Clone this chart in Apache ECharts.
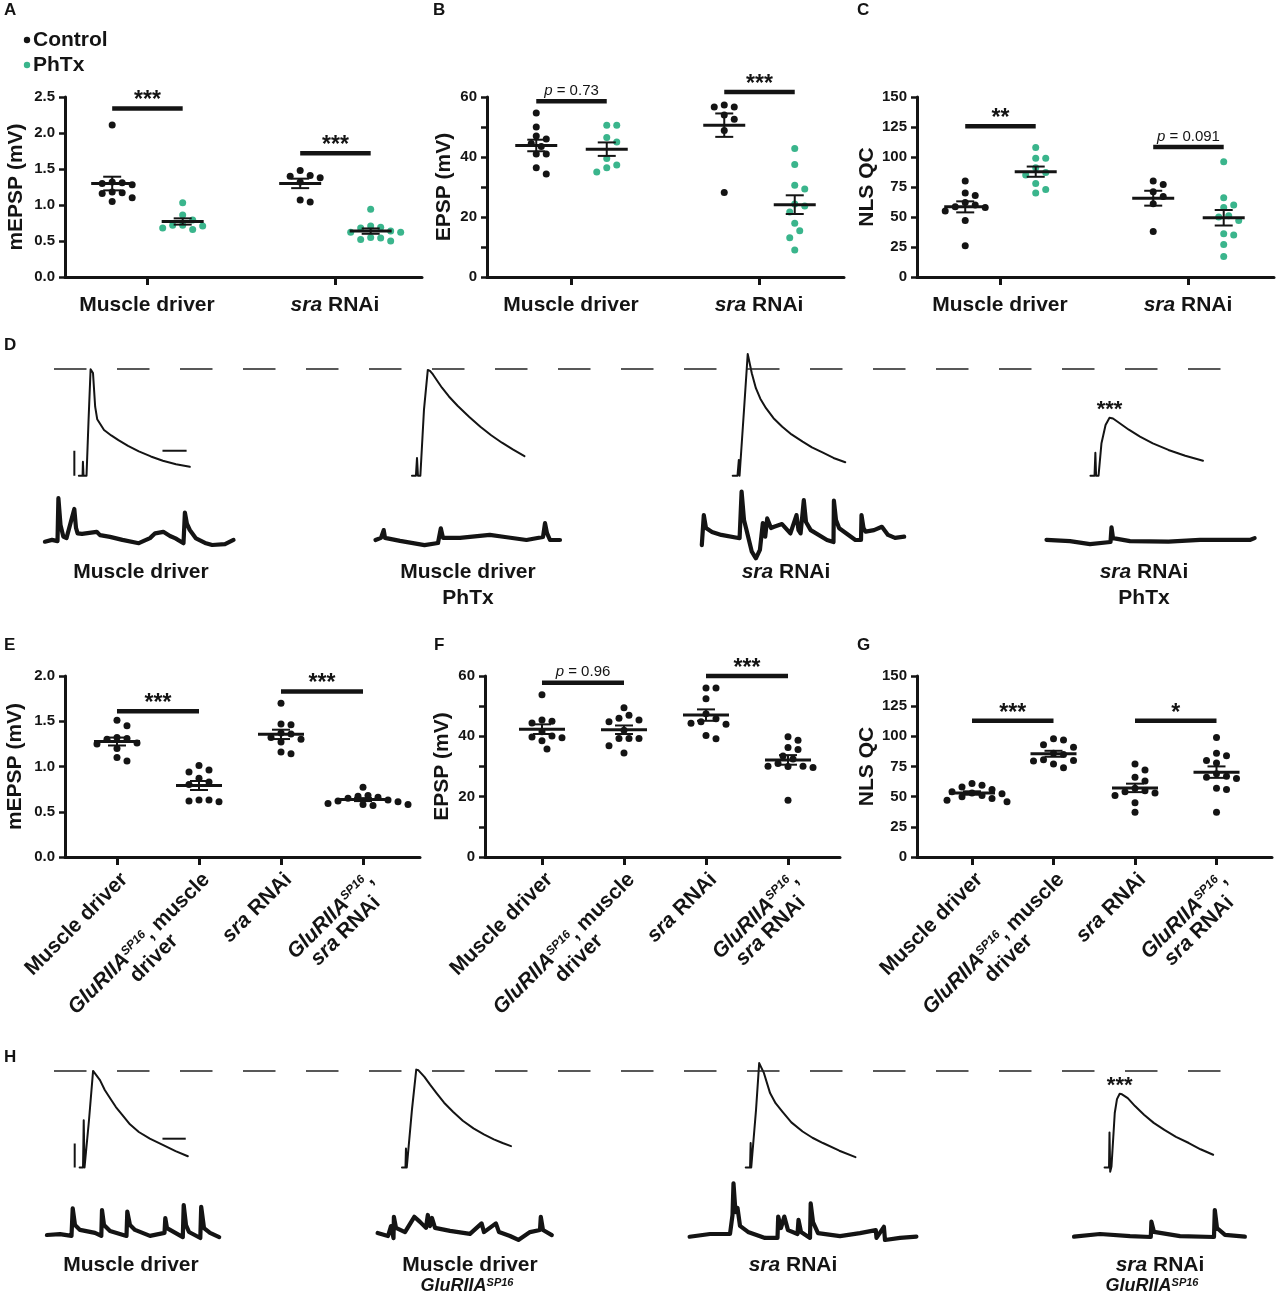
<!DOCTYPE html>
<html>
<head>
<meta charset="utf-8">
<script src="https://cdn.jsdelivr.net/npm/echarts@6/dist/echarts.min.js"></script>
<style>
  html, body { margin: 0; padding: 0; background: #fff; }
  #fig { width: 1277px; height: 1300px; }
</style>
</head>
<body>
<div id="fig"></div>
<script>
const FONT = '"Liberation Sans", Arial, sans-serif';
const INK = '#141414';
const GREEN = '#3ab58c';

// ---------- A-C : control vs PhTx ----------
const topLabels = ['Muscle driver', '{i|sra}{n| RNAi}'];

const aCtrlMD = [2.11, 1.32, 1.31, 1.30, 1.28, 1.18, 1.17, 1.16, 1.10, 1.05];
const aPhtxMD = [1.03, 0.86, 0.79, 0.72, 0.72, 0.71, 0.68, 0.66];
const aCtrlSra = [1.48, 1.41, 1.40, 1.38, 1.32, 1.07, 1.04];
const aPhtxSra = [0.94, 0.71, 0.69, 0.68, 0.64, 0.62, 0.62, 0.55, 0.54, 0.52, 0.50];
const sigA = [2.34, 1.72];
const sigALabels = ['***', '***'];

const bCtrlMD = [54.7, 50.0, 47.0, 46.0, 44.5, 43.5, 41.0, 41.0, 36.4, 34.3];
const bPhtxMD = [50.6, 50.6, 46.5, 45.0, 39.5, 37.3, 36.4, 35.0];
const bCtrlSra = [57.3, 56.7, 56.7, 54.0, 52.6, 48.8, 28.2];
const bPhtxSra = [42.8, 37.5, 30.6, 29.3, 24.3, 23.7, 21.7, 17.9, 15.4, 13.1, 9.0];
const sigB = [58.6, 61.7];
const sigBLabels = ['p = 0.73', '***'];

const cCtrlMD = [80, 70, 68, 62, 60, 58.5, 58, 55, 47, 26];
const cPhtxMD = [108, 99, 99, 91, 87, 85, 78, 73, 70];
const cCtrlSra = [80, 77, 71, 67, 61, 38];
const cPhtxSra = [96, 66, 60, 58, 51, 50, 47, 36, 35, 27, 17];
const sigC = [125.6, 108.4];
const sigCLabels = ['**', 'p = 0.091'];

// ---------- E-G : GluRIIA SP16 ----------
const bottomLabels = [
  '{n|Muscle driver}',
  '{i|GluRIIA}{s|SP16}{n|, muscle}\n{n|driver}',
  '{i|sra}{n| RNAi}',
  '{i|GluRIIA}{s|SP16}{n|,}\n{i|sra}{n| RNAi}'
];

const eMD = [1.51, 1.45, 1.32, 1.31, 1.30, 1.26, 1.25, 1.20, 1.10, 1.06];
const eGluMD = [1.01, 0.96, 0.94, 0.87, 0.83, 0.80, 0.63, 0.63, 0.62, 0.61];
const eSra = [1.70, 1.47, 1.46, 1.37, 1.36, 1.32, 1.30, 1.27, 1.16, 1.14];
const eGluSra = [0.77, 0.68, 0.67, 0.66, 0.65, 0.63, 0.62, 0.61, 0.59, 0.58, 0.58, 0.57];
const sigE = [1.61, 1.83];
const sigELabels = ['***', '***'];

const fMD = [53.8, 45.4, 45.0, 44.4, 41.5, 40.1, 39.8, 39.5, 38.5, 35.8];
const fGluMD = [49.5, 47.0, 46.0, 45.4, 44.8, 42.0, 39.3, 39.3, 39.3, 36.9, 34.5];
const fSra = [56.0, 56.0, 52.5, 47.5, 45.8, 44.8, 44.3, 44.0, 40.3, 39.2];
const fGluSra = [39.9, 38.7, 36.3, 35.6, 33.5, 32.5, 31.0, 30.1, 30.0, 29.7, 30.1, 18.8];
const sigF = [57.8, 60.0];
const sigFLabels = ['p = 0.96', '***'];

const gMD = [61, 59.5, 58, 56, 54, 53, 52.5, 51, 50, 48.5, 47, 45.7];
const gGluMD = [98, 97, 93, 91, 86, 85, 80.5, 80, 79.5, 77, 74];
const gSra = [77, 72, 66, 63, 57, 55, 54, 53, 51, 45, 37];
const gGluSra = [99, 86, 84, 80, 78, 69, 67, 66, 65, 57, 56, 37];
const sigG = [112.9, 112.9];
const sigGLabels = ['***', '*'];

// ---------- D / H traces : [ms, mV] ----------
const dEpsp1 = [[0,0],[3.1,0],[3.4,5.6],[3.9,0],[6.4,0],[8.1,22.3],[9.8,42.6],[10.6,42.3],[11.8,41.1],[13.6,27.6],[15.3,22.6],[21,18.3],[27,16.1],[33,14.2],[41,11.9],[50,9.7],[60,7.7],[70,6.0],[81,4.6],[92.5,3.6]];
const dEpsp2 = [[0,0],[3.3,0],[4.2,7.1],[5,0],[7,0],[10,26.3],[13.2,42.3],[15,41.9],[17.5,40.5],[20.6,38.3],[25,35.2],[30.8,31.7],[38,28],[47.8,23.5],[57,19.6],[66,16.2],[75,13.2],[84,10.5],[93.75,7.8]];
const dEpsp3 = [[0,0],[4,0],[5.1,6.3],[5.7,0],[6.75,0],[9.4,26.3],[12.5,48.7],[14,47.9],[15.9,41],[19.3,35],[23,30.8],[27.75,27],[34,23],[41.3,19.6],[49,16.5],[58.25,13.6],[66,11.3],[75.2,9.2],[84,7.1],[93.8,5.4]];
const dEpsp4 = [[0,0],[3.4,0],[4.1,9.2],[4.7,0],[6.75,0],[9.2,13],[12.6,20.3],[15.9,23.2],[18.8,22.9],[24.4,21],[32,18.4],[41.3,15.6],[52,12.9],[65,10.3],[79,8],[93.8,6]];

const dMini1 = [[0,0],[35.5,0.06],[63,0.02],[67.5,1.45],[78,0.56],[92,0.17],[108,0.12],[147,1.09],[155.5,0.46],[163.5,0.28],[185.5,0.26],[259,0.33],[275.5,0.22],[325.5,0.16],[387.5,0.06],[469.5,-0.05],[525.5,0.12],[551,0.28],[592,0.33],[625.5,0.19],[653,0.11],[693,-0.05],[700,0.97],[710.5,0.59],[724.5,0.39],[755.5,0.11],[800.5,-0.04],[836.5,-0.11],[900.5,-0.08],[943,0.06]];
const dMini2 = [[0,0],[27.5,0.07],[41,0.33],[47.5,0.07],[122.5,-0.03],[245,-0.17],[312.5,-0.1],[326.5,0.39],[337.5,0.07],[422.5,0.07],[571.5,0.17],[647.5,0.1],[755,0],[837.5,0.1],[847.5,0.56],[857.5,0.23],[872.5,0],[922.5,0]];
const dMini3 = [[0,-0.28],[10,0.72],[21,0.29],[51,0.16],[97.5,0.06],[189,-0.05],[199,1.5],[211,0.56],[223.5,0.22],[250,-0.5],[270.5,-0.72],[290.5,-0.44],[305,0.45],[317,0],[327,0.61],[346,0.29],[361.5,0.33],[401,0.42],[443,0.11],[473.5,0.72],[483.5,0.22],[494,0.11],[510,1.22],[521,0.49],[544.5,0.22],[626,-0.11],[658.5,-0.18],[660.5,1.2],[671,0.56],[687,0.28],[768,-0.11],[796,-0.11],[798.5,0.72],[808.5,0.29],[819,0.17],[861,0.22],[900.5,0.33],[931,0.06],[966,-0.04],[1012,0]];
const dMini4 = [[0,0.08],[117.5,0.04],[217.5,-0.06],[320,0.01],[325,0.5],[332.5,0.14],[417.5,0.04],[610,0.02],[767.5,0.08],[917.5,0.08],[1016.5,0.08],[1040.5,0.14]];

const hEpsp1 = [[0,0],[2.9,0],[3.5,19.7],[4.2,0],[5.9,0],[8,19.7],[11.5,40.25],[13.2,40.1],[17.4,36.4],[21.5,32.3],[26.2,28.75],[31,25.2],[36.6,21.8],[43,18],[50.6,14.8],[60,12],[71.5,9.3],[82,6.8],[92.5,4.7]];
const hEpsp2 = [[0,0],[3,0],[3.4,7.9],[4.1,0],[5.3,0],[8.5,23.9],[12.2,40.8],[14.1,40.5],[19.2,37.75],[24,34.5],[29.7,30.9],[36,27],[43.6,23.2],[52,19.5],[61.1,16.3],[70,13.8],[78.5,11.75],[86,10.2],[93.2,8.9]];
const hEpsp3 = [[0,0],[3.7,0],[4.2,10.2],[4.7,0],[6.2,0],[8.8,24],[11.5,43.5],[13.1,43.2],[15.6,39.3],[20.8,31],[25.5,26.8],[31.3,23.3],[39,18.8],[48.6,15],[57,12.4],[66,10.2],[80,7],[93.8,4.3]];
const hEpsp4 = [[0,0],[3.8,0],[4.2,14.6],[4.8,-1.8],[5.9,0.4],[8.7,22.7],[10.6,28.5],[12.9,30.7],[14.9,30.5],[19.8,28.9],[26,25.6],[33.7,22],[42,18.6],[51.1,15.7],[61,12.8],[72,10.2],[82,7.6],[92.8,5.3]];

const hMini1 = [[0,0],[65.5,0.03],[123,-0.03],[129,0.89],[140.5,0.33],[165.5,0.17],[240.5,0.07],[272,-0.03],[275.5,0.83],[285.5,0.33],[315.5,0.13],[398,-0.03],[402,0.78],[415.5,0.33],[440.5,0.17],[515.5,-0.03],[588,0.07],[592,0.56],[600.5,0.23],[679.5,-0.07],[684,1],[695.5,0.33],[710.5,0.1],[767,-0.1],[771.5,0.94],[785.5,0.23],[815.5,0.07],[861.5,-0.07]];
const hMini2 = [[0,0],[52,-0.1],[67,0.23],[79.5,-0.17],[81.5,0.54],[92,0.17],[137,0.03],[183.5,0.54],[212,0.37],[242,0.17],[251,0.6],[262,0.23],[272,0.5],[287,0.17],[362,0.07],[462,-0.03],[520,0.32],[532,0.03],[591.5,0.32],[607,0.03],[662,-0.1],[704,-0.23],[762,0.03],[812,0.1],[816,0.54],[827,0.1],[871,-0.07]];
const hMini3 = [[0,0],[102,0.09],[202,0.09],[214.5,0.72],[219.5,1.78],[229.5,0.82],[239.5,0.96],[252,0.36],[292,0.16],[377,-0.04],[439.5,-0.04],[443,0.67],[457,0.29],[473.5,0.67],[492,0.22],[539.5,0.09],[544.5,0.56],[557,0.16],[602,-0.04],[605.5,1.11],[617,0.49],[642,0.12],[752,0.02],[852,0.12],[931,0.22],[934.5,-0.04],[971.5,0.33],[977,-0.11],[1052,-0.04],[1134,0]];
const hMini4 = [[0,0],[130,0.09],[280,0.02],[384,-0.01],[387,0.5],[400,0.16],[530,0.02],[700,-0.01],[704,0.89],[715,0.29],[755,0.06],[854.5,0]];

// ---------- layout ----------
const scatterPanels = [
  { grid: {left: 65, top: 97, width: 357, height: 180}, xMin: 0.128, xMax: 3.926, pxX: 94,
    yMax: 2.5, yStep: 0.5, fmt: v => v.toFixed(1), yName: 'mEPSP (mV)', nameGap: 38,
    ticks: [1, 3], labels: topLabels, rotate: 0, half: 21,
    groups: [[0.63, aCtrlMD, INK], [1.38, aPhtxMD, GREEN], [2.63, aCtrlSra, INK], [3.38, aPhtxSra, GREEN]],
    sig: [[0.63, 1.38, sigA[0]], [2.63, 3.38, sigA[1]]], sigLabels: sigALabels },
  { grid: {left: 487, top: 97, width: 357, height: 180}, xMin: 0.106, xMax: 3.904, pxX: 94,
    yMax: 60, yStep: 10, fmt: v => (v % 20 === 0 ? String(v) : ''), yName: 'EPSP (mV)', nameGap: 32,
    ticks: [1, 3], labels: topLabels, rotate: 0, half: 21,
    groups: [[0.63, bCtrlMD, INK], [1.38, bPhtxMD, GREEN], [2.63, bCtrlSra, INK], [3.38, bPhtxSra, GREEN]],
    sig: [[0.63, 1.38, sigB[0]], [2.63, 3.38, sigB[1]]], sigLabels: sigBLabels },
  { grid: {left: 917, top: 97, width: 357, height: 180}, xMin: 0.117, xMax: 3.915, pxX: 94,
    yMax: 150, yStep: 25, fmt: v => String(v), yName: 'NLS QC', nameGap: 38,
    ticks: [1, 3], labels: topLabels, rotate: 0, half: 21,
    groups: [[0.63, cCtrlMD, INK], [1.38, cPhtxMD, GREEN], [2.63, cCtrlSra, INK], [3.38, cPhtxSra, GREEN]],
    sig: [[0.63, 1.38, sigC[0]], [2.63, 3.38, sigC[1]]], sigLabels: sigCLabels },
  { grid: {left: 65, top: 676, width: 355, height: 181}, xMin: 0.366, xMax: 4.695, pxX: 82,
    yMax: 2.0, yStep: 0.5, fmt: v => v.toFixed(1), yName: 'mEPSP (mV)', nameGap: 39,
    ticks: [1, 2, 3, 4], labels: bottomLabels, rotate: 45, half: 23,
    groups: [[1, eMD, INK], [2, eGluMD, INK], [3, eSra, INK], [4, eGluSra, INK]],
    sig: [[1, 2, sigE[0]], [3, 4, sigE[1]]], sigLabels: sigELabels },
  { grid: {left: 485, top: 676, width: 355, height: 181}, xMin: 0.305, xMax: 4.634, pxX: 82,
    yMax: 60, yStep: 10, fmt: v => (v % 20 === 0 ? String(v) : ''), yName: 'EPSP (mV)', nameGap: 32,
    ticks: [1, 2, 3, 4], labels: bottomLabels, rotate: 45, half: 23,
    groups: [[1, fMD, INK], [2, fGluMD, INK], [3, fSra, INK], [4, fGluSra, INK]],
    sig: [[1, 2, sigF[0]], [3, 4, sigF[1]]], sigLabels: sigFLabels },
  { grid: {left: 917, top: 676, width: 355, height: 181}, xMin: 0.325, xMax: 4.681, pxX: 81.5,
    yMax: 150, yStep: 25, fmt: v => String(v), yName: 'NLS QC', nameGap: 38,
    ticks: [1, 2, 3, 4], labels: bottomLabels, rotate: 45, half: 23,
    groups: [[1, gMD, INK], [2, gGluMD, INK], [3, gSra, INK], [4, gGluSra, INK]],
    sig: [[1, 2, sigG[0]], [3, 4, sigG[1]]], sigLabels: sigGLabels }
];

const traceRows = [
  { grid: {left: 54, top: 340.7, width: 1167, height: 150}, xMax: 972.5, yMin: -6, yMax: 54, lw: 2, smooth: false,
    traces: [dEpsp1, dEpsp2, dEpsp3, dEpsp4], offsets: [20.7, 298.3, 565.6, 863.7], yOffsets: [0, 0, 0, 0],
    dashed: true, star: 3, bars: {x: -3.75, v: 10, h0: 69.7, h1: 89.8, hv: 10} },
  { grid: {left: 40, top: 480, width: 1230, height: 90}, xMax: 6150, yMin: -1, yMax: 2, lw: 4.2, smooth: false,
    traces: [dMini1, dMini2, dMini3, dMini4], offsets: [24.5, 1677.5, 3309, 5032.5], yOffsets: [-0.057, 0, 0.11, -0.077] },
  { grid: {left: 54, top: 1037.9, width: 1167, height: 144}, xMax: 997.4, yMin: -6, yMax: 54, lw: 2, smooth: false,
    traces: [hEpsp1, hEpsp2, hEpsp3, hEpsp4], offsets: [21.9, 297.4, 591.2, 897.9], yOffsets: [0, 0, 0, 0],
    dashed: true, star: 3, bars: {x: -4.2, v: 10, h0: 70.8, h1: 90.7, hv: 12} },
  { grid: {left: 40, top: 1175, width: 1230, height: 90}, xMax: 6150, yMin: -1, yMax: 2, lw: 4.2, smooth: false,
    traces: [hMini1, hMini2, hMini3, hMini4], offsets: [34.5, 1688, 3248, 5170], yOffsets: [0, 0.067, -0.057, -0.057] }
];

// ---------- helpers ----------
function swarmX(values, xc, pxY, pxX) {
  const order = values.map((v, i) => i).sort((a, b) => values[b] - values[a]);
  const placed = [];
  const xs = new Array(values.length);
  order.forEach(i => {
    const y = values[i] * pxY;
    let off = 0;
    for (let k = 0; k < 40; k++) {
      const cand = (k % 2 ? 1 : -1) * Math.ceil(k / 2) * 5;
      if (placed.every(p => Math.hypot(p[0] - cand, p[1] - y) >= 9)) { off = cand; break; }
    }
    placed.push([off, y]);
    xs[i] = xc + off / pxX;
  });
  return xs;
}

function meanSem(vals) {
  const n = vals.length;
  const m = vals.reduce((a, b) => a + b, 0) / n;
  const sd = Math.sqrt(vals.reduce((a, b) => a + (b - m) * (b - m), 0) / (n - 1));
  return [m, sd / Math.sqrt(n)];
}

const richBase = {
  n: {fontFamily: FONT, fontWeight: 'bold', fontSize: 21, color: INK, align: 'center'},
  i: {fontFamily: FONT, fontWeight: 'bold', fontStyle: 'italic', fontSize: 21, color: INK, align: 'center'},
  s: {fontFamily: FONT, fontWeight: 'bold', fontStyle: 'italic', fontSize: 12, color: INK, align: 'center', verticalAlign: 'top'}
};

function meanSemItem(half, cap) {
  return function (params, api) {
    const x = api.value(0), m = api.value(1), s = api.value(2);
    const c = api.coord([x, m]), hi = api.coord([x, m + s]), lo = api.coord([x, m - s]);
    const st = {stroke: INK, lineWidth: 2};
    return {type: 'group', children: [
      {type: 'line', shape: {x1: c[0] - half, y1: c[1], x2: c[0] + half, y2: c[1]}, style: {stroke: INK, lineWidth: 3}},
      {type: 'line', shape: {x1: c[0], y1: hi[1], x2: c[0], y2: lo[1]}, style: st},
      {type: 'line', shape: {x1: c[0] - cap, y1: hi[1], x2: c[0] + cap, y2: hi[1]}, style: st},
      {type: 'line', shape: {x1: c[0] - cap, y1: lo[1], x2: c[0] + cap, y2: lo[1]}, style: st}
    ]};
  };
}

function sigItem(labels) {
  return function (params, api) {
    const a = api.coord([api.value(0), api.value(2)]);
    const b = api.coord([api.value(1), api.value(2)]);
    const lab = labels[params.dataIndex];
    const isP = lab.charAt(0) === 'p';
    const text = isP ? '{i|p}' + lab.slice(1) : lab;
    return {type: 'group', children: [
      {type: 'line', shape: {x1: a[0], y1: a[1], x2: b[0], y2: b[1]}, style: {stroke: INK, lineWidth: 4.5}},
      {type: 'text', style: {
        text: text, x: (a[0] + b[0]) / 2, y: isP ? a[1] - 3 : a[1] + 4,
        align: 'center', verticalAlign: 'bottom', textAlign: 'center', textVerticalAlign: 'bottom',
        fill: INK, fontFamily: FONT, fontSize: isP ? 15 : 23, fontWeight: isP ? 'normal' : 'bold',
        rich: {i: {fontFamily: FONT, fontStyle: 'italic', fontSize: 15, fill: INK}}
      }}
    ]};
  };
}

// ---------- build option ----------
const option = {
  animation: false,
  backgroundColor: '#fff',
  textStyle: {fontFamily: FONT},
  grid: [], xAxis: [], yAxis: [], series: [], graphic: []
};

scatterPanels.forEach(p => {
  const gi = option.grid.length;
  option.grid.push(Object.assign({containLabel: false}, p.grid));
  const lab = {
    show: true, customValues: p.ticks, rotate: p.rotate, margin: p.rotate ? 12 : 18,
    fontFamily: FONT, fontWeight: 'bold', fontSize: 21, color: INK,
    formatter: v => p.labels[p.ticks.indexOf(v)],
    rich: richBase
  };
  if (p.rotate) lab.verticalAlign = 'top';
  option.xAxis.push({
    gridIndex: gi, type: 'value', min: p.xMin, max: p.xMax,
    axisLine: {show: true, onZero: false, lineStyle: {color: INK, width: 3}},
    axisTick: {show: true, customValues: p.ticks, length: 8, lineStyle: {color: INK, width: 3}},
    axisLabel: lab,
    splitLine: {show: false}
  });
  option.yAxis.push({
    gridIndex: gi, type: 'value', min: 0, max: p.yMax, interval: p.yStep,
    axisLine: {show: true, onZero: false, lineStyle: {color: INK, width: 3}},
    axisTick: {show: true, length: 6, lineStyle: {color: INK, width: 2.5}},
    axisLabel: {fontFamily: FONT, fontWeight: 'bold', fontSize: 15, color: INK, margin: 10, formatter: p.fmt},
    splitLine: {show: false},
    name: p.yName, nameLocation: 'middle', nameGap: p.nameGap,
    nameTextStyle: {fontFamily: FONT, fontWeight: 'bold', fontSize: 21, color: INK}
  });
  const pxY = p.grid.height / p.yMax;
  p.groups.forEach(([xc, vals, color]) => {
    const xs = swarmX(vals, xc, pxY, p.pxX);
    option.series.push({
      type: 'scatter', xAxisIndex: gi, yAxisIndex: gi, silent: true, z: 3,
      symbol: 'circle', symbolSize: 7, itemStyle: {color: color, opacity: 1},
      data: vals.map((v, i) => [xs[i], v])
    });
  });
  option.series.push({
    type: 'custom', xAxisIndex: gi, yAxisIndex: gi, silent: true, z: 5, clip: false,
    renderItem: meanSemItem(p.half, 9),
    encode: {x: 0, y: 1},
    data: p.groups.map(([xc, vals]) => [xc].concat(meanSem(vals)))
  });
  option.series.push({
    type: 'custom', xAxisIndex: gi, yAxisIndex: gi, silent: true, z: 5, clip: false,
    renderItem: sigItem(p.sigLabels),
    encode: {x: [0, 1], y: 2},
    data: p.sig
  });
});

traceRows.forEach(r => {
  const gi = option.grid.length;
  option.grid.push(Object.assign({containLabel: false}, r.grid));
  option.xAxis.push({gridIndex: gi, type: 'value', min: 0, max: r.xMax, show: false});
  option.yAxis.push({gridIndex: gi, type: 'value', min: r.yMin, max: r.yMax, show: false});
  r.traces.forEach((tr, k) => {
    const s = {
      type: 'line', xAxisIndex: gi, yAxisIndex: gi, silent: true, clip: false,
      showSymbol: false, symbol: 'none', smooth: r.smooth,
      lineStyle: {color: INK, width: r.lw, join: 'round', cap: 'round'},
      data: tr.map(([t, v]) => [t + r.offsets[k], v + r.yOffsets[k]])
    };
    if (r.dashed && k === 0) {
      const peak = Math.max.apply(null, tr.map(d => d[1]));
      s.markLine = {
        silent: true, symbol: 'none', label: {show: false},
        lineStyle: {color: '#222', width: 1.6, type: [32.5, 30.5]},
        data: [{yAxis: peak}]
      };
    }
    option.series.push(s);
    if (r.star === k) {
      let pk = tr[0];
      tr.forEach(d => { if (d[1] > pk[1]) pk = d; });
      option.series.push({
        type: 'scatter', xAxisIndex: gi, yAxisIndex: gi, silent: true, symbolSize: 0,
        itemStyle: {opacity: 1},
        data: [[pk[0] + r.offsets[k], pk[1]]],
        label: {show: true, position: 'top', distance: 0, offset: [0, 3], formatter: '***',
          fontFamily: FONT, fontWeight: 'bold', fontSize: 22, color: INK, opacity: 1}
      });
    }
  });
  if (r.bars) {
    const o = r.offsets[0], b = r.bars;
    [[[o + b.x, 0], [o + b.x, b.v]], [[o + b.h0, b.hv], [o + b.h1, b.hv]]].forEach(seg => {
      option.series.push({
        type: 'line', xAxisIndex: gi, yAxisIndex: gi, silent: true, showSymbol: false, symbol: 'none',
        lineStyle: {color: INK, width: 2}, data: seg
      });
    });
  }
});

// ---------- text: panel letters, legend, trace captions ----------
function txt(text, x, y, size, opts) {
  const o = opts || {};
  return {type: 'text', silent: true, z: 10, style: Object.assign({
    text: text, x: x, y: y, fill: INK, fontFamily: FONT, fontWeight: 'bold', fontSize: size,
    align: o.align || 'center', verticalAlign: o.va || 'middle',
    textAlign: o.align || 'center', textVerticalAlign: o.va || 'middle',
    rich: {
      n: {fontFamily: FONT, fontWeight: 'bold', fontSize: size, fill: INK},
      i: {fontFamily: FONT, fontWeight: 'bold', fontStyle: 'italic', fontSize: size, fill: INK},
      s: {fontFamily: FONT, fontWeight: 'bold', fontStyle: 'italic', fontSize: Math.round(size * 0.62), fill: INK, verticalAlign: 'top'}
    }
  }, o.style || {})};
}

const letters = [['A', 4, 2], ['B', 433, 2], ['C', 857, 2], ['D', 4, 337], ['E', 4, 637], ['F', 434, 637], ['G', 857, 637], ['H', 4, 1049]];
letters.forEach(([l, x, y]) => option.graphic.push(txt(l, x, y, 17, {align: 'left', va: 'top'})));

option.graphic.push({type: 'circle', silent: true, shape: {cx: 27, cy: 40, r: 3.2}, style: {fill: INK}});
option.graphic.push({type: 'circle', silent: true, shape: {cx: 27, cy: 65, r: 3.2}, style: {fill: GREEN}});
option.graphic.push(txt('Control', 33, 40, 21, {align: 'left'}));
option.graphic.push(txt('PhTx', 33, 65, 21, {align: 'left'}));

const captions = [
  ['{n|Muscle driver}', 141, 572, 21], ['{n|Muscle driver}', 468, 572, 21], ['{n|PhTx}', 468, 598, 21],
  ['{i|sra}{n| RNAi}', 786, 572, 21], ['{i|sra}{n| RNAi}', 1144, 572, 21], ['{n|PhTx}', 1144, 598, 21],
  ['{n|Muscle driver}', 131, 1265, 21], ['{n|Muscle driver}', 470, 1265, 21], ['{i|GluRIIA}{s|SP16}', 467, 1286, 18],
  ['{i|sra}{n| RNAi}', 793, 1265, 21], ['{i|sra}{n| RNAi}', 1160, 1265, 21], ['{i|GluRIIA}{s|SP16}', 1152, 1286, 18]
];
captions.forEach(([t, x, y, s]) => option.graphic.push(txt(t, x, y, s)));

const chart = echarts.init(document.getElementById('fig'), null, {renderer: 'canvas'});
chart.setOption(option);
</script>
</body>
</html>
